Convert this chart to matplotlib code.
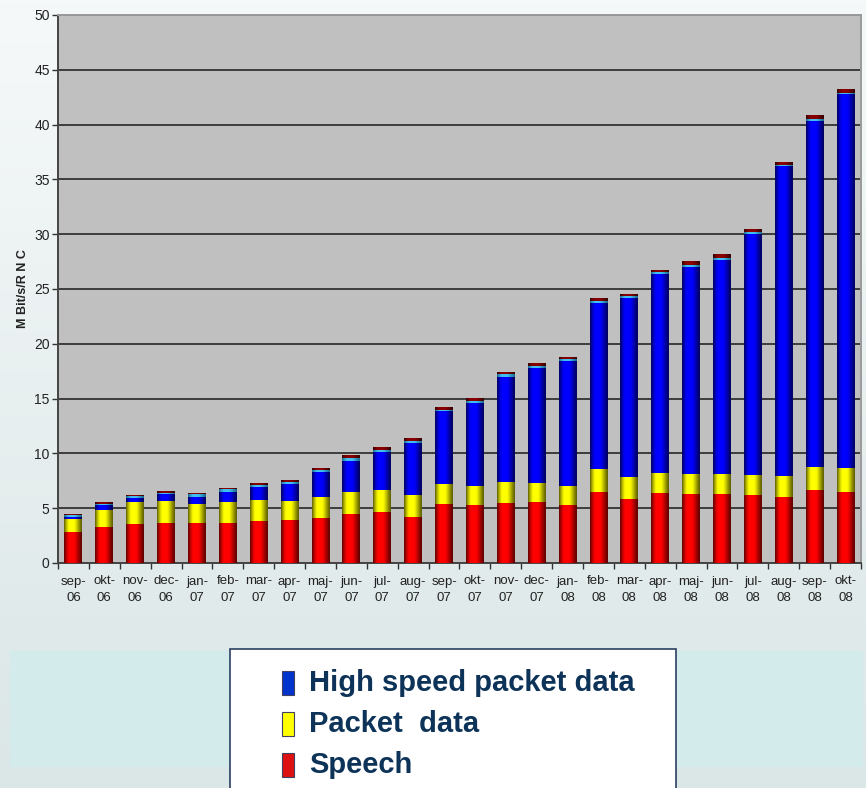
import matplotlib.pyplot as plt
import matplotlib.colors as mcolors
from matplotlib.patches import Rectangle
import numpy as np

months = ['sep-\n06', 'okt-\n06', 'nov-\n06', 'dec-\n06',
          'jan-\n07', 'feb-\n07', 'mar-\n07', 'apr-\n07', 'maj-\n07', 'jun-\n07',
          'jul-\n07', 'aug-\n07', 'sep-\n07', 'okt-\n07', 'nov-\n07', 'dec-\n07',
          'jan-\n08', 'feb-\n08', 'mar-\n08', 'apr-\n08', 'maj-\n08', 'jun-\n08',
          'jul-\n08', 'aug-\n08', 'sep-\n08', 'okt-\n08']

speech = [2.83, 3.31, 3.56, 3.65, 3.65, 3.65, 3.83, 3.92, 4.10, 4.47, 4.65, 4.19,
          5.41, 5.32, 5.50, 5.59, 5.32, 6.50, 5.87, 6.41, 6.32, 6.32, 6.23, 6.05,
          6.69, 6.50]
packet = [1.21, 1.55, 2.00, 2.03, 1.73, 1.91, 1.91, 1.76, 1.92, 2.00, 2.04, 2.01,
          1.76, 1.73, 1.92, 1.74, 1.73, 2.10, 2.00, 1.83, 1.83, 1.83, 1.82, 1.91,
          2.09, 2.19]
hs_packet = [0.15, 0.40, 0.40, 0.58, 0.67, 0.91, 1.19, 1.55, 2.28, 2.83, 3.43, 4.74,
             6.66, 7.57, 9.57, 10.48, 11.40, 15.14, 16.32, 18.14, 18.87, 19.51,
             21.98, 28.26, 31.54, 34.09]
# two thin unlabelled layers on top of every bar
other_a = [0.19, 0.09, 0.15, 0.15, 0.24, 0.28, 0.21, 0.19, 0.18, 0.27, 0.18, 0.18,
           0.12, 0.18, 0.21, 0.18, 0.18, 0.18, 0.19, 0.19, 0.18, 0.18, 0.18, 0.12,
           0.18, 0.12]
other_b = [0.09, 0.12, 0.09, 0.16, 0.09, 0.09, 0.15, 0.15, 0.18, 0.19, 0.19, 0.19,
           0.21, 0.22, 0.16, 0.19, 0.18, 0.27, 0.18, 0.18, 0.28, 0.28, 0.19, 0.24,
           0.28, 0.34]

legend_labels = ['High speed packet data', 'Packet  data', 'Speech']

FONT = ['Liberation Sans Narrow', 'Liberation Sans', 'DejaVu Sans']
plt.rcParams['font.family'] = FONT

fig = plt.figure(figsize=(8.66, 7.88), dpi=100)

# background gradient + light cyan band behind the legend
bg = fig.add_axes([0, 0, 1, 1], zorder=-10)
bg.axis('off')
grad = np.linspace(0, 1, 256)[:, None]
bg.imshow(grad, cmap=mcolors.LinearSegmentedColormap.from_list('bg', ['#f6f9f9', '#dbe6e7']),
          extent=(0, 1, 0, 1), aspect='auto')
bg.add_patch(Rectangle((10 / 866, 1 - 766 / 788), 852 / 866, 115 / 788,
                       color='#d3ebeb', transform=bg.transAxes))
bg.set_xlim(0, 1)
bg.set_ylim(0, 1)

ax = fig.add_axes([58 / 866, 1 - 563 / 788, 803 / 866, 548 / 788])
ax.set_facecolor('#c0c0c0')

x = np.arange(len(months))
width = 0.58


def shade(container, bright, dark):
    # horizontal metallic shading like the original spreadsheet bars
    t = np.linspace(0, 1, 64) ** 0.8
    prof = np.clip(np.sin(np.pi * t) * 1.1, 0, 1) ** 1.3
    b = np.array(mcolors.to_rgb(bright))
    d = np.array(mcolors.to_rgb(dark))
    img = (d[None, :] + (b - d)[None, :] * prof[:, None])[None, :, :]
    for p in container:
        x0, y0 = p.get_x(), p.get_y()
        w, h = p.get_width(), p.get_height()
        if h <= 0:
            continue
        ax.imshow(img, extent=(x0, x0 + w, y0, y0 + h), aspect='auto',
                  interpolation='bilinear', zorder=3)


bottom = np.zeros(len(months))
layers = [
    (speech, '#ff0000', '#600000'),
    (packet, '#ffff00', '#606000'),
    (hs_packet, '#0000ff', '#000060'),
    (other_a, '#40c0f0', '#1a6a90'),
    (other_b, '#8a0000', '#3a0000'),
]
for vals, bright, dark in layers:
    bars = ax.bar(x, vals, width, bottom=bottom, color=bright, zorder=2, linewidth=0)
    shade(bars, bright, dark)
    bottom = bottom + np.array(vals)

ax.set_xlim(-0.5, len(months) - 0.5)
ax.set_ylim(0, 50)
ax.set_yticks(np.arange(0, 51, 5))
ax.yaxis.grid(True, color='#1a1a1a', linewidth=1.1)
ax.set_axisbelow(True)

ax.set_xticks(x)
ax.set_xticklabels(months, fontsize=9.5, color='#222222', linespacing=1.5)
ax.set_xticks(np.arange(-0.5, len(months), 1), minor=True)
ax.tick_params(axis='x', which='major', length=0, pad=9)
ax.tick_params(axis='x', which='minor', length=4, width=1, color='#333333')
ax.tick_params(axis='y', length=4, width=1, color='#333333', labelsize=10,
               labelcolor='#222222', pad=2)

for s in ['left', 'bottom']:
    ax.spines[s].set_color('#444444')
    ax.spines[s].set_linewidth(1.4)
for s in ['top', 'right']:
    ax.spines[s].set_color('#9a9a9a')
    ax.spines[s].set_linewidth(1.4)

ax.set_ylabel('M Bit/s/R N C', fontsize=9, fontweight='bold', color='#222222',
              family=['Liberation Sans', 'DejaVu Sans'])
ax.yaxis.set_label_coords(-0.036, 0.5)

# legend box
lx0, lx1, ly0, ly1 = 230, 676, 649, 790
fig.patches.append(Rectangle((lx0 / 866, 1 - ly1 / 788), (lx1 - lx0) / 866,
                             (ly1 - ly0) / 788, transform=fig.transFigure,
                             facecolor='white', edgecolor='#2a4060', linewidth=1.2,
                             zorder=5))
legend_colors = ['#0033cc', '#ffff00', '#dd1111']
for i, (lab, col) in enumerate(zip(legend_labels, legend_colors)):
    yc = 683 + i * 41
    fig.patches.append(Rectangle((282 / 866, 1 - (yc + 12) / 788), 12 / 866, 24 / 788,
                                 transform=fig.transFigure, facecolor=col,
                                 edgecolor='#404060', linewidth=0.8, zorder=6))
    fig.text(309 / 866, 1 - yc / 788, lab, fontsize=21, fontweight='bold',
             color='#0d3358', va='center', ha='left', zorder=7,
             family=['Liberation Sans', 'DejaVu Sans'])

fig.savefig('out.png', dpi=100)
